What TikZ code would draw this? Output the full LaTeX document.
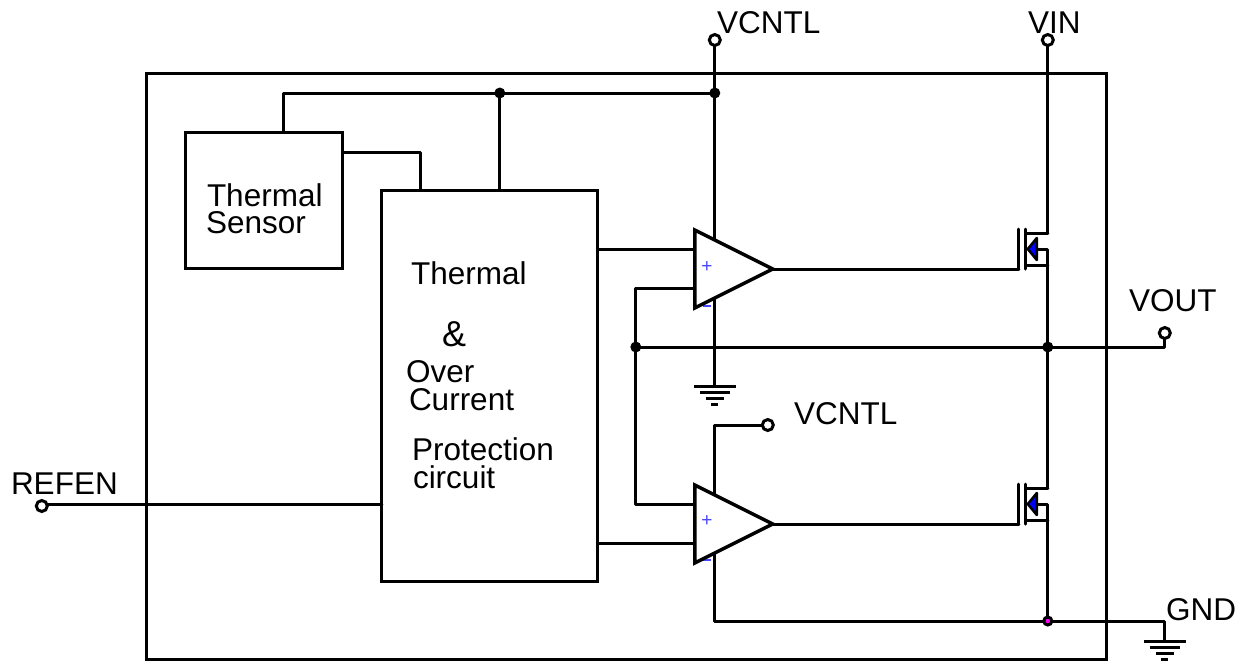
\documentclass[tikz,border=0pt]{standalone}
\usepackage{fontspec}
\setmainfont{Liberation Sans}
\definecolor{signblue}{RGB}{70,70,255}
\definecolor{dotmag}{RGB}{255,0,255}
\tikzset{
  wire/.style={line width=3pt,line cap=round,line join=round},
  box/.style={draw,line width=3pt,fill=white,inner sep=0pt,outer sep=0pt},
  lbl/.style={inner sep=0pt,anchor=base west,font=\fontsize{31.5}{31.5}\selectfont},
  term/.style={circle,draw,line width=3pt,fill=white,minimum size=11pt,inner sep=0pt,outer sep=0pt},
  dotj/.style={circle,fill=black,minimum size=11pt,inner sep=0pt,outer sep=0pt},
  dotm/.style={circle,draw=black,line width=3pt,fill=dotmag,minimum size=8pt,inner sep=0pt,outer sep=0pt},
  sign/.style={inner sep=0pt,text=signblue,font=\fontsize{19}{19}\selectfont},
  gndl/.style={line width=3pt}
}
\newcommand{\gndsym}[2]{%
  \draw[gndl] (#1-21,#2) -- (#1+21,#2);
  \draw[gndl] (#1-15,#2+6) -- (#1+15,#2+6);
  \draw[gndl] (#1-9,#2+12) -- (#1+9,#2+12);
  \draw[gndl] (#1-3.5,#2+18) -- (#1+3.5,#2+18);
}
\newcommand{\mosfet}[1]{%
  \draw[wire] (1019,#1-40) -- (1019,#1);
  \draw[wire] (1026,#1-40) -- (1026,#1);
  \draw[wire] (1026,#1-36) -- (1048,#1-36);
  \draw[wire] (1026,#1-4) -- (1048,#1-4);
  \draw[wire] (1036,#1-20) -- (1048,#1-20) -- (1048,#1-4);
  \draw[line width=2.5pt,line join=round,fill=blue] (1028,#1-20) -- (1037,#1-31) -- (1037,#1-9) -- cycle;
}
\begin{document}
\begin{tikzpicture}[x=1pt,y=-1pt]
\useasboundingbox (0.2,0) rectangle (1250.2,662);
% outer frame
\node[box,fill=none,minimum width=960pt,minimum height=586pt,anchor=north west] (chip) at (147,73) {};
% blocks
\node[box,minimum width=157pt,minimum height=136pt,anchor=north west] (sensor) at (186,132) {};
\node[box,minimum width=216pt,minimum height=391pt,anchor=north west] (prot) at (382,190) {};
% terminals & junction coordinates
\coordinate (j1) at (715,93);
\coordinate (j2) at (500,93);
\coordinate (jfb) at (636,347);
\coordinate (jout) at (1048,347);
\coordinate (jgnd) at (1048,621);
% wires: supply and protection
\draw[wire] (284,132) -- (284,93) -- (j1);
\draw[wire] (j2) -- (500,190);
\draw[wire] (343,152) -- (421,152) -- (421,190);
\draw[wire] (715,46) -- (715,240);
\draw[wire] (42,504) -- (382,504);
\draw[wire] (598,249) -- (695,249);
\draw[wire] (598,543) -- (695,543);
\draw[wire] (695,288) -- (636,288) -- (636,504) -- (695,504);
\draw[wire] (jfb) -- (1165,347) -- (1165,339);
\draw[wire] (715,298) -- (715,386);
\draw[wire] (715,495) -- (715,425) -- (762,425);
\draw[wire] (715,553) -- (715,621) -- (1165,621) -- (1165,641);
\draw[wire] (773,269) -- (1019,269);
\draw[wire] (773,524) -- (1019,524);
\draw[wire] (1048,46) -- (1048,233);
\draw[wire] (1048,265) -- (1048,488);
\draw[wire] (1048,520) -- (1048,621);
% mosfets
\mosfet{269}
\mosfet{524}
% grounds
\gndsym{715}{386}
\gndsym{1165}{641}
% op amps
\node[sign] (m1) at (707,306) {\rule{8pt}{1.5pt}};
\node[sign] (m2) at (707,560) {\rule{8pt}{1.5pt}};
\draw[box,line width=3.5pt] (695,230) -- (773,269) -- (695,308) -- cycle;
\draw[box,line width=3.5pt] (695,485) -- (773,524) -- (695,563) -- cycle;
\node[sign] (p1) at (707,267) {+};
\node[sign] (p2) at (707,521) {+};
% dots
\node[dotj] (d1) at (j1) {};
\node[dotj] (d2) at (j2) {};
\node[dotj] (d3) at (jfb) {};
\node[dotj] (d4) at (jout) {};
\node[dotm] (d5) at (jgnd) {};
% terminals
\node[term] (t1) at (715,40) {};
\node[term] (t2) at (1048,40) {};
\node[term] (t3) at (1165,333) {};
\node[term] (t4) at (768,425) {};
\node[term] (t5) at (42,506) {};
% labels
\node[lbl] (l1) at (717,33) {VCNTL};
\node[lbl] (l2) at (1028,33) {VIN};
\node[lbl] (l3) at (1129,311) {VOUT};
\node[lbl] (l4) at (794,424) {VCNTL};
\node[lbl] (l5) at (11,494) {REFEN};
\node[lbl] (l6) at (1166,620) {GND};
\node[lbl] (l7) at (207,206) {Thermal};
\node[lbl] (l8) at (206,233) {Sensor};
\node[lbl] (l9) at (411,284) {Thermal};
\node[lbl,font=\fontsize{36}{36}\selectfont] (l10) at (442,346) {\&};
\node[lbl] (l11) at (406,382) {Over};
\node[lbl] (l12) at (409,410) {Current};
\node[lbl] (l13) at (412,460) {Protection};
\node[lbl] (l14) at (413,488) {circuit};
\end{tikzpicture}
\end{document}
